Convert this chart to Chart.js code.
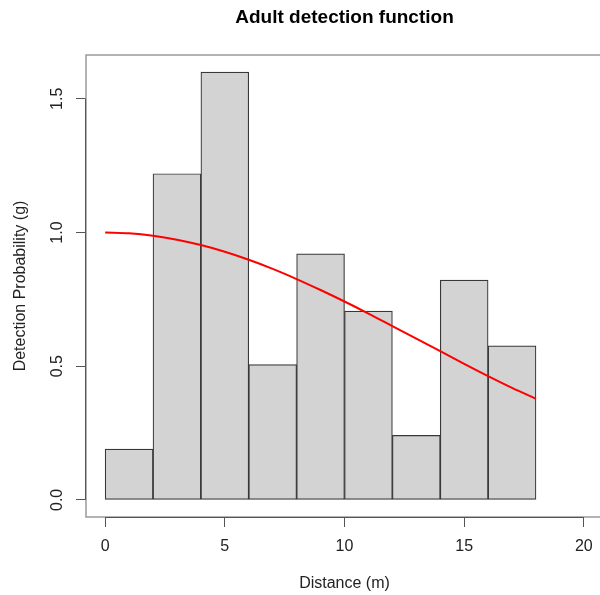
<!DOCTYPE html>
<html>
<head>
<meta charset="utf-8">
<script src="https://cdn.jsdelivr.net/npm/chart.js@4/dist/chart.umd.min.js"></script>
<style>
  html, body { margin: 0; padding: 0; background: #fff; overflow: hidden; }
  #wrap { width: 600px; height: 595px; overflow: hidden; }
</style>
</head>
<body>
<div id="wrap"><canvas id="myChart" width="610" height="595"></canvas></div>
<script>
// histogram bins (centres, width 2 m) and heights
const binCentres = [1, 3, 5, 7, 9, 11, 13, 15, 17];
const binHeights = [0.19, 1.22, 1.6, 0.506, 0.92, 0.706, 0.241, 0.822, 0.576];

// fitted detection function
const curveX = [0, 1, 2, 3, 4, 5, 6, 7, 8, 9, 10, 11, 12, 13, 14, 15, 16, 17, 18];
const curveY = [1.0, 0.997, 0.988, 0.973, 0.953, 0.928, 0.898, 0.864, 0.826, 0.785,
  0.742, 0.697, 0.65, 0.603, 0.556, 0.509, 0.463, 0.419, 0.378];

const xTicks = [0, 5, 10, 15, 20];
const yTicks = [0, 0.5, 1.0, 1.5];
const yTickLabels = ["0.0", "0.5", "1.0", "1.5"];

const FONT = "'Liberation Sans', Arial, sans-serif";

const rAxes = {
  id: "rAxes",
  beforeDatasetsDraw(chart) {
    const { ctx, chartArea: { top, bottom, left, right } } = chart;
    ctx.save();
    ctx.strokeStyle = "#9a9a9a";
    ctx.lineWidth = 1.5;
    ctx.strokeRect(left, top, right - left, bottom - top);
    ctx.restore();
  },
  afterDraw(chart) {
    const { ctx, chartArea: { bottom, left }, scales: { x, y } } = chart;
    ctx.save();
    ctx.strokeStyle = "#555";
    ctx.lineWidth = 1;
    // x axis line
    ctx.beginPath();
    ctx.moveTo(x.getPixelForValue(xTicks[0]), bottom + 0.5);
    ctx.lineTo(x.getPixelForValue(xTicks[xTicks.length - 1]), bottom + 0.5);
    ctx.stroke();
    // y axis line
    ctx.beginPath();
    ctx.moveTo(left - 0.5, y.getPixelForValue(yTicks[0]));
    ctx.lineTo(left - 0.5, y.getPixelForValue(yTicks[yTicks.length - 1]));
    ctx.stroke();
    // rotated y tick labels
    ctx.fillStyle = "#222";
    ctx.font = "16px " + FONT;
    ctx.textAlign = "center";
    ctx.textBaseline = "middle";
    yTicks.forEach((v, i) => {
      ctx.save();
      ctx.translate(58, y.getPixelForValue(v));
      ctx.rotate(-Math.PI / 2);
      ctx.fillText(yTickLabels[i], 0, 0);
      ctx.restore();
    });
    ctx.restore();
  },
};

const ctx = document.getElementById("myChart");
new Chart(ctx, {
  type: "bar",
  data: {
    datasets: [
      {
        type: "line",
        data: curveX.map((v, i) => ({ x: v, y: curveY[i] })),
        borderColor: "#ff0000",
        borderWidth: 2,
        pointRadius: 0,
        cubicInterpolationMode: "monotone",
        order: 0,
      },
      {
        type: "bar",
        data: binCentres.map((v, i) => ({ x: v, y: binHeights[i] })),
        backgroundColor: "#d3d3d3",
        borderColor: "#383838",
        borderWidth: 1.2,
        borderSkipped: false,
        barPercentage: 1,
        categoryPercentage: 1,
        order: 1,
      },
    ],
  },
  options: {
    responsive: false,
    animation: false,
    layout: { padding: { left: 0, right: 7, top: 0, bottom: 0 } },
    plugins: {
      legend: { display: false },
      tooltip: { enabled: false },
      title: {
        display: true,
        text: "Adult detection function",
        fullSize: false,
        color: "#000",
        font: { family: FONT, size: 19, weight: "bold" },
        padding: { top: 6, bottom: 26.2 },
      },
    },
    scales: {
      x: {
        type: "linear",
        offset: false,
        min: -0.8,
        max: 20.8,
        afterBuildTicks(scale) {
          scale.ticks = xTicks.map((v) => ({ value: v }));
        },
        afterFit(scale) {
          scale.height = 78;
        },
        grid: { display: true, offset: false, drawOnChartArea: false, drawTicks: true, tickLength: 10, tickColor: "#555", color: "#555" },
        border: { display: false },
        ticks: { color: "#222", font: { family: FONT, size: 16 }, padding: 10, maxRotation: 0 },
        title: { display: true, text: "Distance (m)", color: "#222", font: { family: FONT, size: 16 }, padding: { top: 0, bottom: 1.5 } },
      },
      y: {
        min: -0.064,
        max: 1.664,
        afterBuildTicks(scale) {
          scale.ticks = yTicks.map((v) => ({ value: v }));
        },
        afterFit(scale) {
          scale.width = 86;
        },
        grid: { display: true, drawOnChartArea: false, drawTicks: true, tickLength: 10, tickColor: "#555", color: "#555" },
        border: { display: false },
        ticks: { display: false },
        title: { display: true, text: "Detection Probability (g)", color: "#222", font: { family: FONT, size: 16 }, padding: { top: 11, bottom: 0 } },
      },
    },
  },
  plugins: [rAxes],
});
</script>
</body>
</html>
